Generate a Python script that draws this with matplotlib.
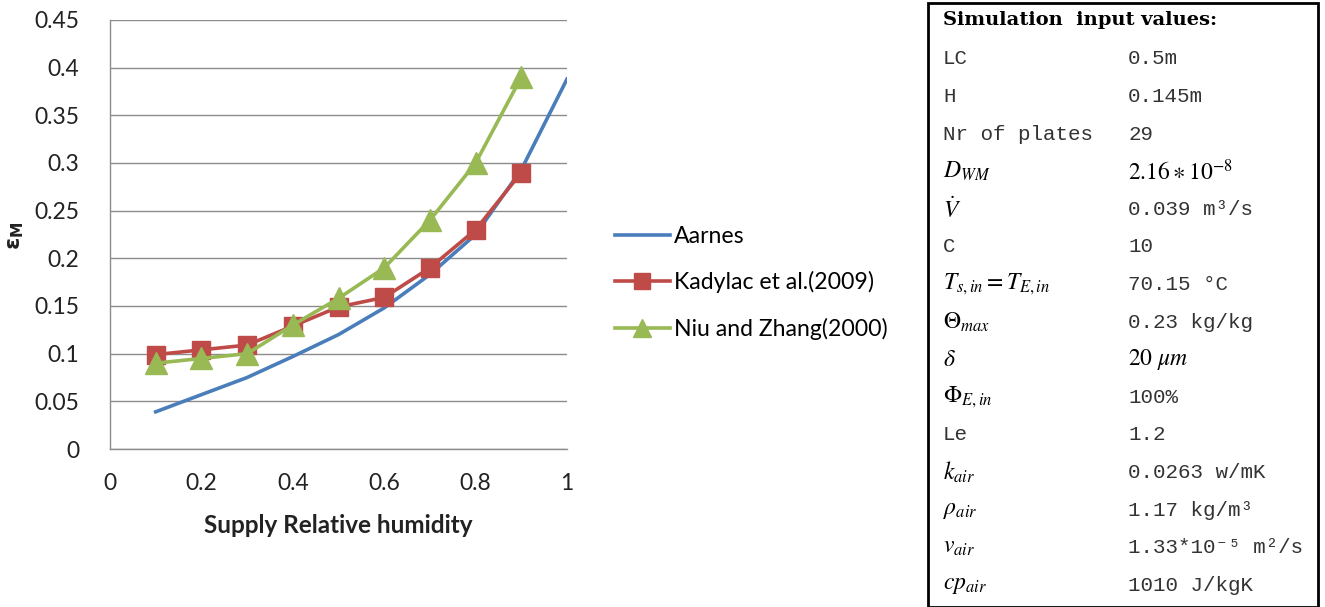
import numpy as np
import matplotlib.pyplot as plt
from matplotlib.patches import Rectangle
from matplotlib.ticker import FormatStrFormatter

plt.rcParams['font.family'] = ['Lato', 'DejaVu Sans']
plt.rcParams['mathtext.fontset'] = 'custom'
plt.rcParams['mathtext.bf'] = 'DejaVu Sans:bold'
plt.rcParams['mathtext.rm'] = 'DejaVu Sans'
plt.rcParams['mathtext.it'] = 'DejaVu Sans:italic'

# chart data
rh = [0.1, 0.2, 0.3, 0.4, 0.5, 0.6, 0.7, 0.8, 0.9, 1.0]
aarnes = [0.039, 0.057, 0.075, 0.097, 0.12, 0.148, 0.183, 0.225, 0.293, 0.388]
rh_exp = [0.1, 0.2, 0.3, 0.4, 0.5, 0.6, 0.7, 0.8, 0.9]
kadylac = [0.099, 0.104, 0.109, 0.129, 0.149, 0.159, 0.19, 0.23, 0.29]
niu = [0.09, 0.095, 0.1, 0.13, 0.158, 0.19, 0.24, 0.30, 0.39]

# table of input values
param_names = ['LC', 'H', 'Nr of plates', r'$D_{WM}$', r'$\dot{V}$', 'C',
               r'$T_{s,in} = T_{E,in}$', r'$\Theta_{max}$', r'$\delta$',
               r'$\Phi_{E,in}$', 'Le', r'$k_{air}$', r'$\rho_{air}$',
               r'$v_{air}$', r'$cp_{air}$']
param_values = ['0.5m', '0.145m', '29', r'$2.16 \ast 10^{-8}$',
                '0.039 m³/s', '10', '70.15 °C', '0.23 kg/kg', r'$20\ \mu m$',
                '100%', '1.2', '0.0263 w/mK', '1.17 kg/m³',
                '1.33*10⁻⁵ m²/s', '1010 J/kgK']

W, H = 1325, 607
fig = plt.figure(figsize=(W / 100, H / 100), dpi=100)

ax = fig.add_axes([110 / W, 1 - 449 / H, (567 - 110) / W, (449 - 20) / H])

blue = '#4A7EBB'
red = '#BE4B48'
green = '#98B954'

ax.plot(rh, aarnes, color=blue, lw=2.6, label='Aarnes')
ax.plot(rh_exp, kadylac, color=red, lw=2.6, marker='s', markersize=13.5,
        label='Kadylac et al.(2009)')
ax.plot(rh_exp, niu, color=green, lw=2.6, marker='^', markersize=15.5,
        label='Niu and Zhang(2000)')

ax.set_xlim(0, 1)
ax.set_ylim(0, 0.45)
ax.set_xticks(np.arange(0, 1.01, 0.2))
ax.set_yticks(np.arange(0, 0.451, 0.05))
ax.xaxis.set_major_formatter(FormatStrFormatter('%g'))
ax.yaxis.set_major_formatter(FormatStrFormatter('%g'))
ax.tick_params(length=0, labelsize=16.5, colors='#222222')
ax.tick_params(axis='y', pad=22)
ax.tick_params(axis='x', pad=17)
ax.grid(axis='y', color='#8C8C8C', lw=1)
ax.set_axisbelow(True)
for s in ['top', 'right']:
    ax.spines[s].set_visible(False)
for s in ['left', 'bottom']:
    ax.spines[s].set_color('#8C8C8C')
    ax.spines[s].set_linewidth(1)

ax.set_xlabel('Supply Relative humidity', fontsize=17.5, fontweight='bold',
              labelpad=15, color='#222222')
fig.text(16 / W, 1 - 236 / H, r'$\mathbf{\varepsilon_M}$', rotation=90,
         fontsize=16, ha='center', va='center', color='#222222')

fig.legend(loc='center left', bbox_to_anchor=(594 / W, 1 - 283 / H),
           frameon=False, fontsize=16.6, handlelength=2.4, handletextpad=0.15,
           labelspacing=1.05, markerscale=0.85)

# input values box
fig.add_artist(Rectangle((928 / W, 0), (1318 - 928) / W, 1 - 3 / H,
                         transform=fig.transFigure, fill=False,
                         edgecolor='black', lw=2))
fig.text(943 / W, 1 - 20 / H, 'Simulation  input values:',
         fontsize=14, fontweight='bold', family='DejaVu Serif',
         va='center', ha='left')

mono = ['Liberation Mono', 'DejaVu Sans Mono']
for i in range(len(param_names)):
    y = 1 - (59 + 37.6 * i) / H
    name = param_names[i]
    val = param_values[i]
    if name.startswith('$'):
        fig.text(943 / W, y, name, fontsize=17, va='center', ha='left',
                 math_fontfamily='stix')
    else:
        fig.text(943 / W, y, name, fontsize=15, va='center', ha='left',
                 family=mono, color='#333333')
    if val.startswith('$'):
        fig.text(1128 / W, y, val, fontsize=17, va='center', ha='left',
                 math_fontfamily='stix')
    else:
        fig.text(1128 / W, y, val, fontsize=15, va='center', ha='left',
                 family=mono, color='#333333')

fig.savefig('out.png', dpi=100)
